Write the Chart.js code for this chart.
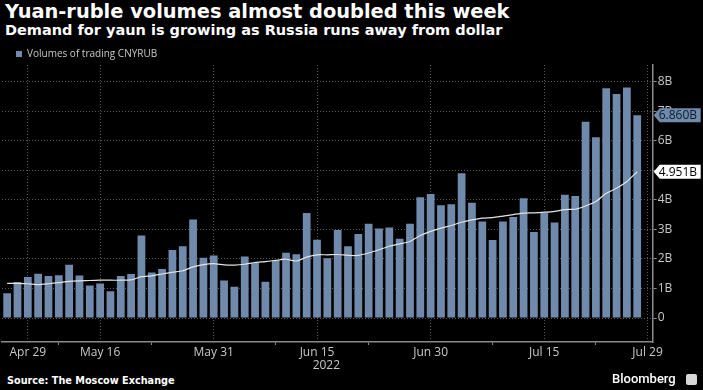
<!DOCTYPE html>
<html lang="en">
<head>
<meta charset="UTF-8">
<title>Yuan-ruble volumes</title>
<script src="https://cdn.jsdelivr.net/npm/chart.js@4.4.0/dist/chart.umd.min.js"></script>
<style>
    body { margin: 0; background: #000; width: 703px; height: 390px; overflow: hidden; position: relative; }
    #titulo { position: absolute; left: 5px; top: 1.6px; color: #fff; font: bold 19.4px/1 "DejaVu Sans"; white-space: nowrap; }
    #subtitulo { position: absolute; left: 5px; top: 22.7px; color: #fff; font: bold 14.5px/1 "DejaVu Sans"; white-space: nowrap; }
    #caixa { position: absolute; left: 0; top: 35px; width: 703px; height: 337px; }
    #fonte { position: absolute; left: 7px; top: 375.5px; color: #fff; font: bold 9.7px/1 "DejaVu Sans"; white-space: nowrap; }
    #marca { position: absolute; left: 612px; top: 371px; color: #fff; font: 500 13px/1.2 Roboto; }
    #icone { position: absolute; left: 686px; top: 374px; width: 11px; height: 11px; background: #d8d8d8; border-radius: 2px; }
</style>
</head>
<body>
    <div id="titulo">Yuan-ruble volumes almost doubled this week</div>
    <div id="subtitulo">Demand for yaun is growing as Russia runs away from dollar</div>
    <div id="caixa"><canvas id="grafico" width="703" height="337"></canvas></div>
    <div id="fonte">Source: The Moscow Exchange</div>
    <div id="marca">Bloomberg</div>
    <div id="icone"></div>

<script>
    // trading days (Moscow Exchange), 2022
    const datas = ['Apr 27', 'Apr 28', 'Apr 29', 'May 4', 'May 5', 'May 6', 'May 11', 'May 12', 'May 13',
        'May 16', 'May 17', 'May 18', 'May 19', 'May 20', 'May 23', 'May 24', 'May 25', 'May 26', 'May 27',
        'May 30', 'May 31', 'Jun 1', 'Jun 2', 'Jun 3', 'Jun 6', 'Jun 7', 'Jun 8', 'Jun 9', 'Jun 10',
        'Jun 14', 'Jun 15', 'Jun 16', 'Jun 17', 'Jun 20', 'Jun 21', 'Jun 22', 'Jun 23', 'Jun 24',
        'Jun 27', 'Jun 28', 'Jun 29', 'Jun 30', 'Jul 1', 'Jul 4', 'Jul 5', 'Jul 6', 'Jul 7', 'Jul 8',
        'Jul 11', 'Jul 12', 'Jul 13', 'Jul 14', 'Jul 15', 'Jul 18', 'Jul 19', 'Jul 20', 'Jul 21', 'Jul 22',
        'Jul 25', 'Jul 26', 'Jul 27', 'Jul 28', 'Jul 29'];

    // volumes, billions of yuan
    const volumes = [0.84, 1.22, 1.39, 1.50, 1.42, 1.45, 1.80, 1.44, 1.10, 1.17,
        0.91, 1.42, 1.49, 2.79, 1.54, 1.66, 2.30, 2.43, 3.33, 2.04,
        2.12, 1.27, 1.06, 2.08, 1.86, 1.23, 1.95, 2.21, 2.16, 3.55,
        2.65, 2.02, 2.98, 2.43, 2.84, 3.19, 3.03, 3.06, 2.68, 3.19,
        4.09, 4.20, 3.82, 3.85, 4.90, 3.90, 3.27, 2.64, 3.27, 3.42,
        4.05, 2.91, 3.55, 3.23, 4.17, 4.13, 6.64, 6.12, 7.77, 7.58,
        7.80, 6.86, null];

    // moving average (white line)
    const mediaMovel = [1.17, 1.17, 1.16, 1.13, 1.16, 1.20, 1.24, 1.26, 1.27, 1.28,
        1.28, 1.28, 1.29, 1.40, 1.43, 1.49, 1.55, 1.60, 1.73, 1.81,
        1.84, 1.80, 1.79, 1.82, 1.88, 1.91, 1.95, 1.99, 1.93, 2.06,
        2.14, 2.14, 2.15, 2.12, 2.12, 2.20, 2.31, 2.43, 2.51, 2.59,
        2.79, 2.93, 3.04, 3.13, 3.24, 3.32, 3.38, 3.40, 3.45, 3.50,
        3.55, 3.56, 3.58, 3.61, 3.67, 3.68, 3.79, 3.94, 4.22, 4.39,
        4.62, 4.951, null];

    const rotulosX = ['Apr 29', 'May 16', 'May 31', 'Jun 15', 'Jun 30', 'Jul 15', 'Jul 29'];
    const menoresX = ['May 6', 'May 23', 'Jun 8', 'Jun 22', 'Jul 8', 'Jul 22'];
    const ano = '2022';
    const ticksY = [0, 1, 2, 3, 4, 5, 6, 7, 8];
    const rotulosY = ['0', '1B', '2B', '3B', '4B', '5B', '6B', '7B', '8B'];

    const corBarra = '#708aab';
    const corGrade = 'rgba(120,120,120,0.75)';
    const corEixo = '#8a8a8a';
    const corTexto = '#c8c8c8';

    // legend: fixed block height
    const alturaLegenda = {
        id: 'alturaLegenda',
        beforeInit(chart) {
            const fitOriginal = chart.legend.fit;
            chart.legend.fit = function () {
                fitOriginal.bind(chart.legend)();
                this.height = 30;
            }
        }
    }

    // last value boxes on the right axis
    const caixasValor = {
        id: 'caixasValor',
        afterDraw(chart) {
            const ctx = chart.ctx;
            const escala = chart.scales.y;
            const x = escala.left + 1;
            const series = [[volumes, corBarra, '#0b1a2e'], [mediaMovel, '#ffffff', '#000000']];
            series.forEach(function (s) {
                const v = s[0].filter(n => n != null).pop();
                const y = escala.getPixelForValue(v);
                ctx.save();
                ctx.fillStyle = s[1];
                ctx.beginPath();
                ctx.moveTo(x, y);
                ctx.lineTo(x + 6, y - 7);
                ctx.lineTo(x + 47, y - 7);
                ctx.lineTo(x + 47, y + 7);
                ctx.lineTo(x + 6, y + 7);
                ctx.closePath();
                ctx.fill();
                ctx.fillStyle = s[2];
                ctx.font = '12px "Open Sans"';
                ctx.textBaseline = 'middle';
                ctx.fillText(v.toFixed(3) + 'B', x + 5, y + 0.5);
                ctx.restore();
            });
        }
    }

    const valoresY = ticksY.flatMap(v => v < ticksY[ticksY.length - 1] ? [v, v + 0.5] : [v]);

    const config = {
        type: 'bar',
        data: {
            labels: datas,
            datasets: [{
                type: 'line',
                label: 'Moving average',
                data: mediaMovel,
                borderColor: '#e4e4e4',
                borderWidth: 1.2,
                pointRadius: 0,
                tension: 0.2,
                order: 0
            }, {
                label: 'Volumes of trading CNYRUB',
                data: volumes,
                backgroundColor: corBarra,
                barPercentage: 0.75,
                categoryPercentage: 1,
                order: 1
            }]
        },
        options: {
            responsive: false,
            animation: false,
            devicePixelRatio: 1,
            layout: { padding: { left: 2, top: 0, right: 0, bottom: 0 } },
            plugins: {
                tooltip: { enabled: false },
                legend: {
                    display: true,
                    align: 'start',
                    labels: {
                        color: corTexto,
                        font: { family: 'Open Sans', size: 10 },
                        boxWidth: 6,
                        boxHeight: 6,
                        padding: 14,
                        filter: item => item.text == 'Volumes of trading CNYRUB'
                    }
                }
            },
            scales: {
                x: {
                    type: 'category',
                    offset: true,
                    grid: {
                        offset: false,
                        color: ctx => rotulosX.includes(datas[ctx.index]) ? corGrade : 'transparent',
                        tickColor: ctx => menoresX.includes(datas[ctx.index]) ? corEixo : 'transparent',
                        tickLength: 3,
                        lineWidth: 1
                    },
                    border: { display: true, color: corEixo, width: 1.5, dash: [1, 2] },
                    ticks: {
                        autoSkip: false,
                        maxRotation: 0,
                        padding: 1,
                        color: corTexto,
                        font: { family: 'Open Sans', size: 12, lineHeight: 1.1 },
                        callback: function (val) {
                            const d = this.getLabelForValue(val);
                            if (d == 'Jun 15') return [d, '      ' + ano];
                            return rotulosX.includes(d) ? d : '';
                        }
                    },
                    afterFit: function (scale) { scale.height = 30; }
                },
                y: {
                    position: 'right',
                    min: -0.81,
                    max: 8.56,
                    afterBuildTicks: function (scale) {
                        scale.ticks = valoresY.map(v => ({ value: v }));
                    },
                    grid: {
                        color: ctx => (ctx.tick && Number.isInteger(ctx.tick.value)) ? corGrade : 'transparent',
                        tickColor: corEixo,
                        tickLength: 4,
                        lineWidth: 1
                    },
                    border: { display: true, color: corEixo, width: 1.5, dash: [1, 2] },
                    ticks: {
                        padding: 1,
                        color: corTexto,
                        font: { family: 'Open Sans', size: 12 },
                        callback: function (v) {
                            return Number.isInteger(v) ? rotulosY[ticksY.indexOf(v)] : '';
                        }
                    },
                    afterFit: function (scale) { scale.width = 50.3; }
                }
            }
        },
        plugins: [alturaLegenda, caixasValor]
    };

    const myChart = new Chart(document.getElementById('grafico'), config);
</script>
</body>
</html>
